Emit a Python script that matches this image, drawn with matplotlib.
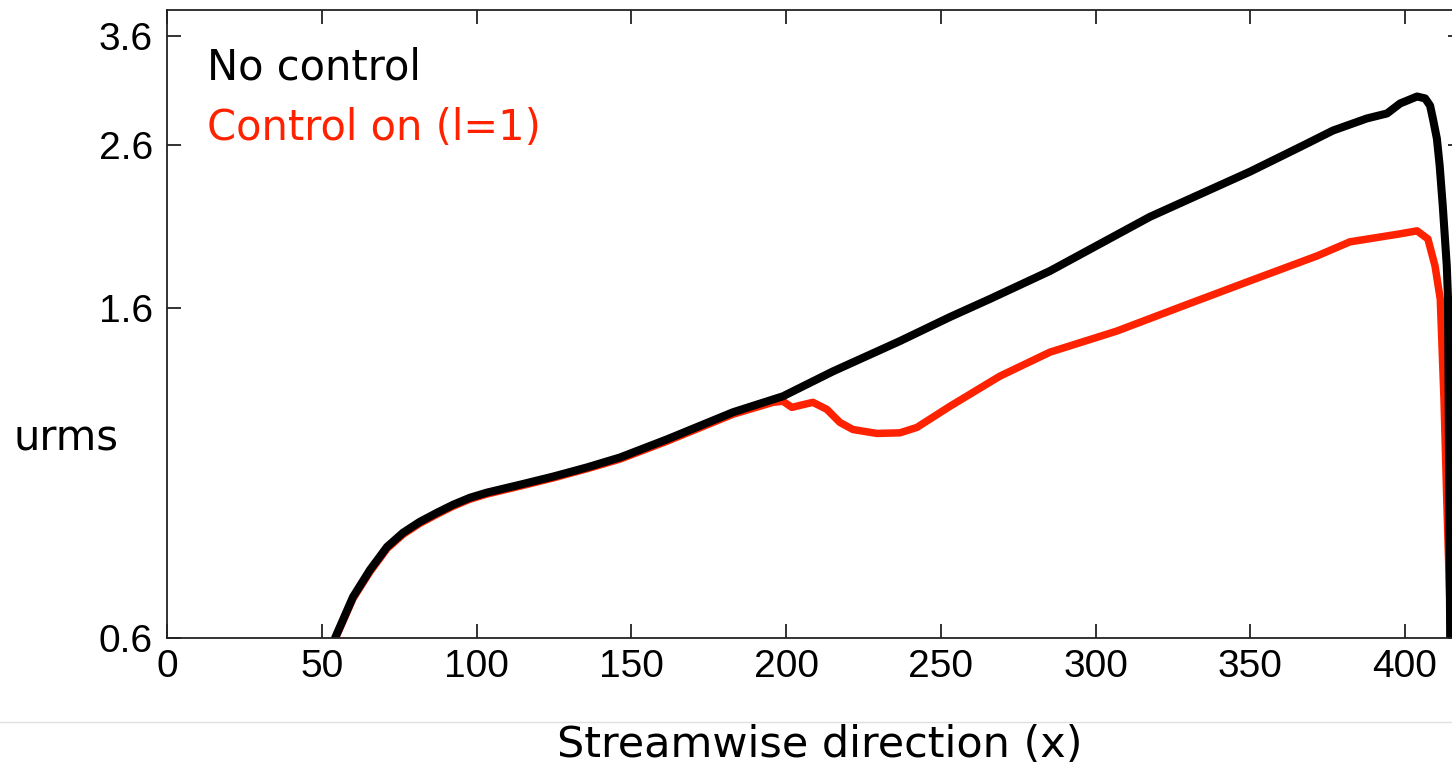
import matplotlib
matplotlib.use('Agg')
import matplotlib.pyplot as plt
import matplotlib.ticker as mticker
from matplotlib.lines import Line2D

# urms along streamwise direction
x_noctrl = [54.3, 60.1, 65.6, 71.1, 76.3, 81.7, 87.2, 92.4, 97.9, 103.4, 114.1, 124.7,
            135.7, 146.4, 161.6, 182.9, 199.0, 215.2, 236.8, 253.0, 265.9, 285.3,
            317.6, 349.9, 367.0, 376.7, 387.7, 394.2, 398.4, 403.9, 406.5, 408.1,
            409.0, 410.3, 411.2, 412.2, 413.5, 413.9, 414.6, 415.5]
u_noctrl = [0.600, 0.678, 0.735, 0.787, 0.821, 0.848, 0.871, 0.892, 0.911, 0.925, 0.947, 0.970,
            0.997, 1.027, 1.084, 1.175, 1.232, 1.327, 1.452, 1.560, 1.646, 1.789,
            2.102, 2.404, 2.598, 2.717, 2.817, 2.859, 2.945, 3.007, 2.990, 2.927,
            2.817, 2.653, 2.448, 2.172, 1.816, 1.646, 0.600, 0.500]

x_ctrl = [54.3, 60.1, 65.6, 71.1, 76.3, 81.7, 87.2, 92.4, 97.9, 103.4, 114.1, 124.7,
          135.7, 146.4, 161.6, 182.9, 195.8, 199.0, 201.9, 204.5, 208.7, 213.2, 217.4,
          221.6, 229.4, 236.8, 242.3, 253.0, 269.1, 285.3, 306.9, 328.3, 349.9, 371.6,
          382.2, 398.4, 403.9, 407.4, 409.7, 411.4, 412.6, 413.5, 414.8, 415.5]
u_ctrl = [0.598, 0.675, 0.731, 0.783, 0.817, 0.844, 0.867, 0.888, 0.907, 0.921, 0.943, 0.966,
          0.993, 1.022, 1.078, 1.168, 1.210, 1.214, 1.192, 1.199, 1.210, 1.185, 1.140,
          1.116, 1.103, 1.105, 1.123, 1.196, 1.308, 1.405, 1.496, 1.612, 1.737, 1.871,
          1.951, 1.998, 2.016, 1.968, 1.816, 1.645, 1.221, 0.906, 0.605, 0.500]

yticks = [0.6, 1.6, 2.6, 3.6]
xticks = [0, 50, 100, 150, 200, 250, 300, 350, 400]

W, H = 1452, 768
fig = plt.figure(figsize=(W / 100, H / 100), dpi=100)
ax = fig.add_axes([167 / W, 130 / H, (1462 - 167) / W, 628 / H])

red = '#ff2200'
ax.plot(x_ctrl, u_ctrl, color=red, lw=5.4, solid_joinstyle='round', solid_capstyle='round')
ax.plot(x_noctrl, u_noctrl, color='black', lw=5.8, solid_joinstyle='round', solid_capstyle='round')

ax.set_yscale('log')
ax.set_ylim(0.6, 3.89)
ax.set_xlim(0, (1462 - 167) / 3.095)
ax.yaxis.set_major_locator(mticker.FixedLocator(yticks))
ax.yaxis.set_minor_locator(mticker.NullLocator())
ax.yaxis.set_major_formatter(mticker.FixedFormatter([str(v) for v in yticks]))
ax.set_xticks(xticks)

for s in ax.spines.values():
    s.set_linewidth(1.3)
    s.set_color('#222222')
ax.tick_params(direction='in', length=10, width=1.3, top=True, right=True,
               labelsize=28, colors='#222222', labelcolor='black')
ax.tick_params(axis='x', pad=8)
ax.tick_params(axis='y', pad=10)
for lab in ax.get_xticklabels() + ax.get_yticklabels():
    lab.set_family('Liberation Sans')

ax.text(0.031, 0.908, 'No control', transform=ax.transAxes, fontsize=30,
        color='black', va='center', ha='left')
ax.text(0.031, 0.812, 'Control on (l=1)', transform=ax.transAxes, fontsize=30,
        color=red, va='center', ha='left')

ax.set_ylabel('urms', rotation=0, fontsize=30, ha='center', va='center')
ax.yaxis.set_label_coords(-0.078, 0.32)
ax.set_xlabel('Streamwise direction (x)', fontsize=31, va='center')
ax.xaxis.set_label_coords(0.504, -0.170)

fig.add_artist(Line2D([0, 1], [1 - 722 / H] * 2, color='#e0e0e0', lw=1))

fig.savefig('out.png', dpi=100)
